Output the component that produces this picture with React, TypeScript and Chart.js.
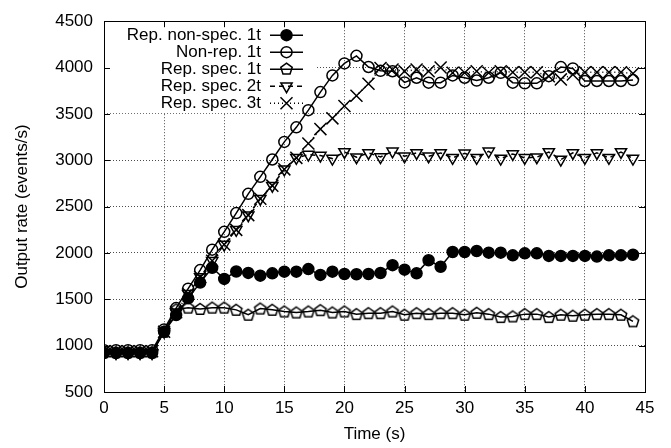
import React, { useEffect, useRef } from 'react';
import { Chart, registerables } from 'chart.js';

Chart.register(...registerables);

const timeS = [0, 1, 2, 3, 4, 5, 6, 7, 8, 9, 10, 11, 12, 13, 14, 15, 16, 17, 18, 19, 20, 21, 22, 23, 24, 25, 26, 27, 28, 29, 30, 31, 32, 33, 34, 35, 36, 37, 38, 39, 40, 41, 42, 43, 44];

const repNonSpec1t = [920, 920, 920, 920, 920, 1150, 1330, 1510, 1680, 1840, 1720, 1800, 1785, 1755, 1780, 1798, 1798, 1826, 1763, 1798, 1773, 1770, 1773, 1784, 1868, 1820, 1780, 1921, 1851, 2010, 2010, 2021, 2003, 2003, 1974, 1996, 1996, 1968, 1968, 1968, 1968, 1961, 1974, 1974, 1981];

const nonRep1t = [950, 950, 950, 950, 950, 1175, 1405, 1615, 1815, 2035, 2228, 2430, 2638, 2821, 3008, 3198, 3355, 3540, 3735, 3915, 4045, 4126, 4006, 3965, 3960, 3840, 3890, 3837, 3837, 3915, 3890, 3860, 3890, 3943, 3837, 3830, 3830, 3907, 4005, 3990, 3855, 3855, 3855, 3855, 3865];

const repSpec1t = [930, 930, 930, 930, 930, 1150, 1390, 1410, 1396, 1410, 1410, 1386, 1333, 1400, 1386, 1368, 1357, 1368, 1382, 1357, 1368, 1340, 1350, 1350, 1368, 1333, 1350, 1340, 1350, 1350, 1333, 1354, 1340, 1308, 1315, 1340, 1340, 1308, 1333, 1322, 1333, 1340, 1340, 1333, 1262];

const repSpec2t = [920, 920, 920, 920, 920, 1150, 1360, 1560, 1740, 1915, 2091, 2249, 2408, 2585, 2726, 2902, 3026, 3061, 3050, 3018, 3089, 3033, 3079, 3035, 3096, 3043, 3079, 3043, 3079, 3026, 3075, 3026, 3096, 3018, 3068, 3026, 3033, 3089, 3008, 3079, 3026, 3079, 3026, 3089, 3018];

const repSpec3t = [940, 940, 940, 940, 940, 1150, 1360, 1560, 1740, 1915, 2091, 2249, 2408, 2585, 2726, 2902, 3026, 3180, 3336, 3452, 3586, 3696, 3825, 3996, 3978, 3960, 3978, 3960, 4000, 3943, 3943, 3960, 3943, 3960, 3950, 3950, 3950, 3907, 3872, 3925, 3950, 3950, 3950, 3950, 3935];

const seriesLabels = ['Rep. non-spec. 1t', 'Non-rep. 1t', 'Rep. spec. 1t', 'Rep. spec. 2t', 'Rep. spec. 3t'];
const yTicks = [500, 1000, 1500, 2000, 2500, 3000, 3500, 4000, 4500];
const xTicks = [0, 5, 10, 15, 20, 25, 30, 35, 40, 45];

const FONT = "'Liberation Sans', Arial, Helvetica, sans-serif";
const FONT_SIZE = 17;

type Marker = 'filled' | 'circle' | 'pentagon' | 'triangleDown' | 'x';
const markers: Marker[] = ['filled', 'circle', 'pentagon', 'triangleDown', 'x'];
const dashes: number[][] = [[], [], [], [5, 4], [1, 3]];

function drawMarker(ctx: CanvasRenderingContext2D, m: Marker, x: number, y: number) {
  ctx.save();
  ctx.strokeStyle = '#000';
  ctx.fillStyle = '#000';
  ctx.lineWidth = 1.5;
  ctx.setLineDash([]);
  ctx.beginPath();
  if (m === 'filled' || m === 'circle') {
    ctx.arc(x, y, 5.5, 0, Math.PI * 2);
    if (m === 'filled') ctx.fill();
    ctx.stroke();
  } else if (m === 'pentagon') {
    for (let k = 0; k < 5; k++) {
      const a = -Math.PI / 2 + (k * 2 * Math.PI) / 5;
      const px = x + Math.cos(a) * 6;
      const py = y + Math.sin(a) * 6;
      if (k === 0) ctx.moveTo(px, py); else ctx.lineTo(px, py);
    }
    ctx.closePath();
    ctx.stroke();
  } else if (m === 'triangleDown') {
    const r = 6.5;
    for (let k = 0; k < 3; k++) {
      const a = Math.PI / 2 + (k * 2 * Math.PI) / 3;
      const px = x + Math.cos(a) * r;
      const py = y + Math.sin(a) * r;
      if (k === 0) ctx.moveTo(px, py); else ctx.lineTo(px, py);
    }
    ctx.closePath();
    ctx.stroke();
  } else {
    const d = 6;
    ctx.moveTo(x - d, y - d); ctx.lineTo(x + d, y + d);
    ctx.moveTo(x + d, y - d); ctx.lineTo(x - d, y + d);
    ctx.stroke();
  }
  ctx.restore();
}

function makePentagon(): HTMLCanvasElement {
  const c = document.createElement('canvas');
  c.width = 18; c.height = 18;
  const g = c.getContext('2d')!;
  drawMarker(g, 'pentagon', 9, 9.5);
  return c;
}

const LEGEND_W = 211;
const LEGEND_H = 91;

const framePlugin = {
  id: 'gnuFrame',
  beforeDatasetsDraw(chart: any) {
    const { ctx, chartArea: a } = chart;
    ctx.save();
    ctx.fillStyle = '#fff';
    ctx.fillRect(a.left + 1, a.top + 1, LEGEND_W, LEGEND_H);
    ctx.restore();
  },
  afterDraw(chart: any) {
    const { ctx, chartArea: a, scales } = chart;
    ctx.save();
    ctx.strokeStyle = '#000';
    ctx.lineWidth = 1;
    ctx.setLineDash([]);
    ctx.strokeRect(Math.round(a.left) + 0.5, Math.round(a.top) + 0.5, Math.round(a.right - a.left), Math.round(a.bottom - a.top));
    ctx.beginPath();
    const tl = 6;
    scales.x.ticks.forEach((t: any) => {
      const px = Math.round(scales.x.getPixelForValue(t.value)) + 0.5;
      ctx.moveTo(px, a.bottom); ctx.lineTo(px, a.bottom - tl);
      ctx.moveTo(px, a.top); ctx.lineTo(px, a.top + tl);
    });
    scales.y.ticks.forEach((t: any) => {
      const py = Math.round(scales.y.getPixelForValue(t.value)) + 0.5;
      ctx.moveTo(a.left, py); ctx.lineTo(a.left + tl, py);
      ctx.moveTo(a.right, py); ctx.lineTo(a.right - tl, py);
    });
    ctx.stroke();

    // legend
    ctx.font = `${FONT_SIZE}px ${FONT}`;
    ctx.fillStyle = '#000';
    ctx.textAlign = 'right';
    ctx.textBaseline = 'middle';
    const textRight = a.left + 157;
    const lineL = a.left + 166;
    const lineR = a.left + 199;
    const mx = (lineL + lineR) / 2;
    seriesLabels.forEach((lab, i) => {
      const y = a.top + 14 + i * 17;
      ctx.fillText(lab, textRight, y);
      ctx.save();
      ctx.lineWidth = 1.5;
      ctx.setLineDash(dashes[i]);
      ctx.beginPath();
      ctx.moveTo(lineL, y); ctx.lineTo(lineR, y);
      ctx.stroke();
      ctx.restore();
      drawMarker(ctx, markers[i], mx, y);
    });
    ctx.restore();
  },
};

export default function App() {
  const ref = useRef<HTMLCanvasElement>(null);
  useEffect(() => {
    document.body.style.margin = '0';
    const canvas = ref.current!;
    const pent = makePentagon();
    const series = [repNonSpec1t, nonRep1t, repSpec1t, repSpec2t, repSpec3t];
    const styles: any[] = [
      { pointStyle: 'circle', pointRadius: 5.5, pointBackgroundColor: '#000' },
      { pointStyle: 'circle', pointRadius: 5.5, pointBackgroundColor: 'rgba(0,0,0,0)' },
      { pointStyle: pent, pointRadius: 6, pointBackgroundColor: 'rgba(0,0,0,0)' },
      { pointStyle: 'triangle', pointRotation: 180, pointRadius: 6.5, pointBackgroundColor: 'rgba(0,0,0,0)' },
      { pointStyle: 'crossRot', pointRadius: 8.5, pointBackgroundColor: 'rgba(0,0,0,0)' },
    ];
    const datasets = series.map((vals, i) => ({
      label: seriesLabels[i],
      data: timeS.map((t, k) => ({ x: t, y: vals[k] })),
      borderColor: '#000',
      borderWidth: 1.5,
      borderDash: dashes[i],
      pointBorderColor: '#000',
      pointBorderWidth: 1.5,
      tension: 0,
      order: 10 - i,
      ...styles[i],
    }));
    const chart = new Chart(canvas, {
      type: 'line',
      data: { datasets },
      options: {
        animation: false,
        responsive: false,
        devicePixelRatio: 1,
        layout: { padding: { top: 14, right: 26, left: 0, bottom: 0 } },
        plugins: { legend: { display: false }, tooltip: { enabled: false } },
        scales: {
          x: {
            type: 'linear',
            min: 0,
            max: 45,
            afterFit: (s: any) => { s.height = 56; },
            afterBuildTicks: (s: any) => { s.ticks = xTicks.map((v) => ({ value: v })); },
            ticks: { color: '#000', font: { family: FONT, size: FONT_SIZE }, padding: 6, maxRotation: 0, callback: (v: any) => String(v) },
            grid: { color: 'rgba(0,0,0,0.7)', lineWidth: 1, drawTicks: false },
            border: { display: false, dash: [1, 2] },
            title: { display: true, text: 'Time (s)', color: '#000', font: { family: FONT, size: FONT_SIZE }, padding: { top: 0, bottom: 3 } },
          },
          y: {
            type: 'linear',
            min: 500,
            max: 4500,
            afterFit: (s: any) => { s.width = 104; },
            afterBuildTicks: (s: any) => { s.ticks = yTicks.map((v) => ({ value: v })); },
            ticks: { color: '#000', font: { family: FONT, size: FONT_SIZE }, padding: 11, callback: (v: any) => String(v) },
            grid: { color: 'rgba(0,0,0,0.7)', lineWidth: 1, drawTicks: false },
            border: { display: false, dash: [1, 2] },
            title: { display: true, text: 'Output rate (events/s)', color: '#000', font: { family: FONT, size: FONT_SIZE }, padding: { top: 12, bottom: 0 } },
          },
        },
      },
      plugins: [framePlugin],
    });
    return () => chart.destroy();
  }, []);
  return <canvas ref={ref} width={671} height={448} style={{ display: 'block', width: 671, height: 448 }} />;
}
